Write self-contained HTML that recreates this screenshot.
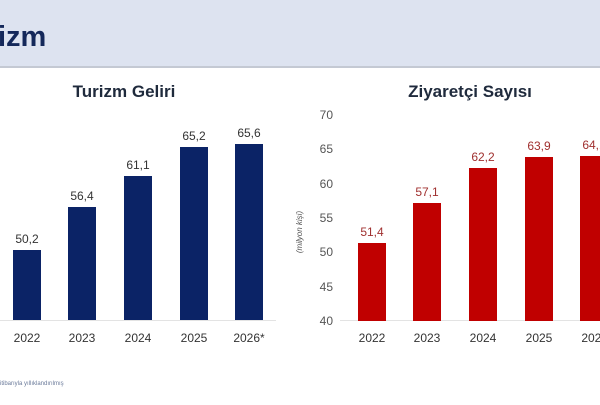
<!DOCTYPE html>
<html><head><style>
body{margin:0;width:600px;height:400px;overflow:hidden;background:#fff;font-family:"Liberation Sans",sans-serif;}
</style></head><body>
<svg width="600" height="400" xmlns="http://www.w3.org/2000/svg" font-family="Liberation Sans, sans-serif">
<rect x="0" y="0" width="600" height="66" fill="#dde3f0"/>
<rect x="0" y="66" width="600" height="2" fill="#c4c9d3"/>
<text x="-2" y="46" font-size="29" font-weight="bold" fill="#14285a">izm</text>
<text x="124" y="97" font-size="17" font-weight="bold" fill="#1f2a3c" text-anchor="middle">Turizm Geliri</text>
<text x="470" y="97" font-size="17" font-weight="bold" fill="#1f2a3c" text-anchor="middle">Ziyaretçi Sayısı</text>
<line x1="0" y1="320.5" x2="276" y2="320.5" stroke="#e3e3e3"/>
<g fill="#0b2366">
<rect x="13" y="250" width="28" height="70"/>
<rect x="68" y="207" width="28" height="113"/>
<rect x="124" y="176" width="28" height="144"/>
<rect x="180" y="147" width="28" height="173"/>
<rect x="235" y="144" width="28" height="176"/>
</g>
<g font-size="12" fill="#333" text-anchor="middle">
<text x="27" y="243">50,2</text><text x="82" y="200">56,4</text><text x="138" y="169">61,1</text><text x="194" y="140">65,2</text><text x="249" y="137">65,6</text>
<text x="27" y="342">2022</text><text x="82" y="342">2023</text><text x="138" y="342">2024</text><text x="194" y="342">2025</text><text x="249" y="342">2026*</text>
</g>
<line x1="340" y1="320.5" x2="600" y2="320.5" stroke="#e3e3e3"/>
<g font-size="12" fill="#555" text-anchor="end">
<text x="333" y="119">70</text><text x="333" y="153">65</text><text x="333" y="188">60</text><text x="333" y="222">55</text><text x="333" y="256">50</text><text x="333" y="291">45</text><text x="333" y="325">40</text>
</g>
<text transform="translate(302,232) rotate(-90)" font-size="8" font-style="italic" fill="#555" text-anchor="middle">(milyon kişi)</text>
<g fill="#c00000">
<rect x="358" y="243" width="28" height="78"/>
<rect x="413" y="203" width="28" height="118"/>
<rect x="469" y="168" width="28" height="153"/>
<rect x="525" y="157" width="28" height="164"/>
<rect x="580" y="156" width="28" height="165"/>
</g>
<g font-size="12" fill="#a0302f" text-anchor="middle">
<text x="372" y="236">51,4</text><text x="427" y="196">57,1</text><text x="483" y="161">62,2</text><text x="539" y="150">63,9</text><text x="594" y="149">64,1</text>
</g>
<g font-size="12" fill="#333" text-anchor="middle">
<text x="372" y="342">2022</text><text x="427" y="342">2023</text><text x="483" y="342">2024</text><text x="539" y="342">2025</text><text x="597" y="342">2026*</text>
</g>
<text x="0" y="385" font-size="6" fill="#6a7a9a">itibarıyla yıllıklandırılmış</text>
</svg>
</body></html>
